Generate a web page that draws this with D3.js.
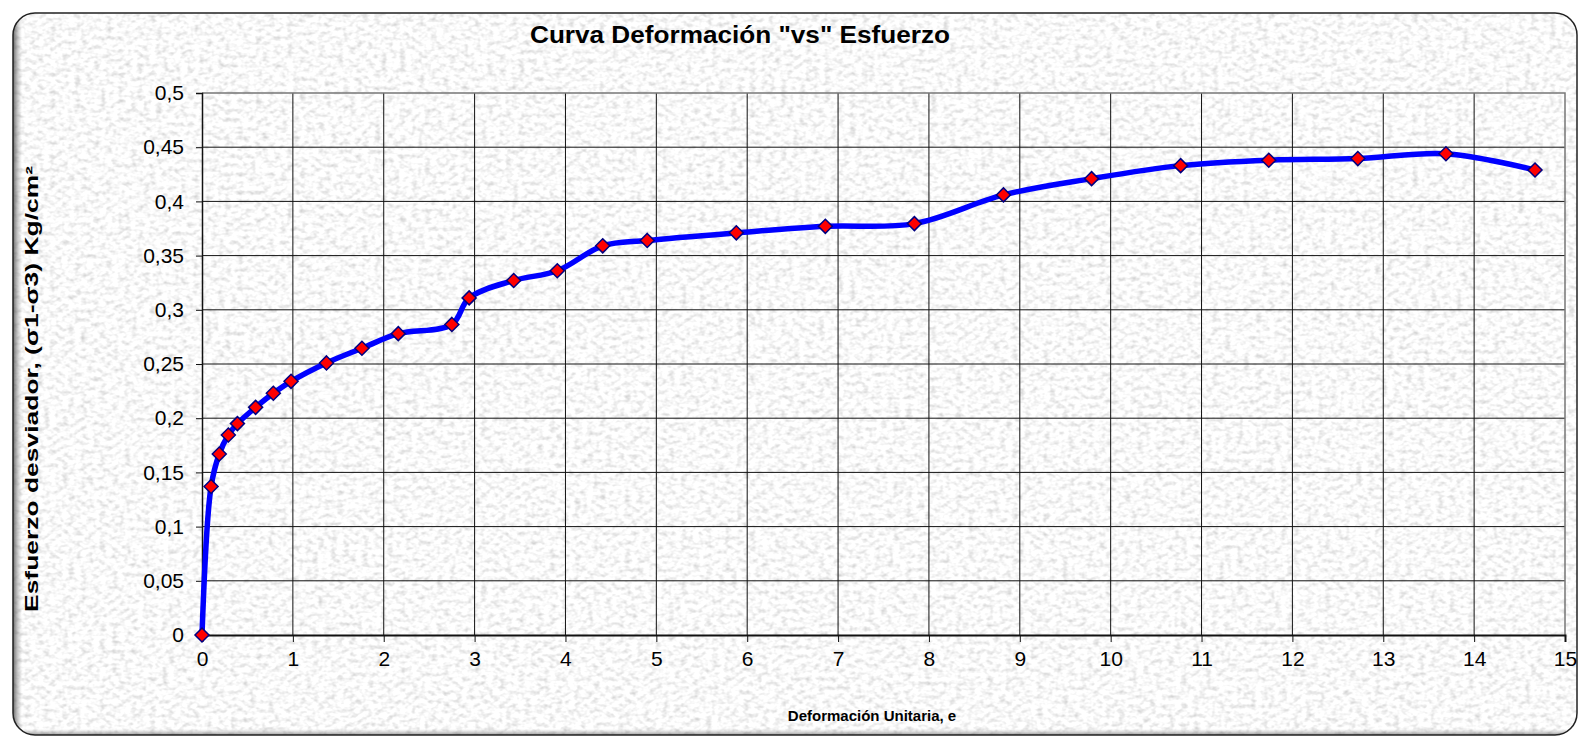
<!DOCTYPE html>
<html>
<head>
<meta charset="utf-8">
<script src="https://cdn.jsdelivr.net/npm/d3@7"></script>
<style>
  html, body { margin: 0; padding: 0; background: #fff; }
  svg { display: block; font-family: "Liberation Sans", Arial, sans-serif; }
</style>
</head>
<body>
<div id="chart"></div>
<script>
"use strict";

/*** Data */
const deformacion = [0, 0.1, 0.19, 0.29, 0.39, 0.59, 0.785, 0.98, 1.37, 1.76, 2.16, 2.75, 2.94,
                     3.43, 3.91, 4.41, 4.9, 5.88, 6.86, 7.84, 8.82, 9.79, 10.77, 11.74, 12.72, 13.69, 14.67];
const esfuerzo = [0, 0.137, 0.167, 0.1845, 0.195, 0.21, 0.223, 0.234, 0.251, 0.2645, 0.278, 0.2865, 0.311,
                  0.327, 0.336, 0.359, 0.364, 0.371, 0.377, 0.3795, 0.406, 0.421, 0.433, 0.438, 0.4395, 0.444, 0.429];

const xTicks = d3.range(0, 16);
const yTicks = [0, 0.05, 0.1, 0.15, 0.2, 0.25, 0.3, 0.35, 0.4, 0.45, 0.5];
const yTickLabels = ["0", "0,05", "0,1", "0,15", "0,2", "0,25", "0,3", "0,35", "0,4", "0,45", "0,5"];

const titleText = "Curva Deformación \"vs\" Esfuerzo";
const xTitle = "Deformación Unitaria, e";
const yTitle = "Esfuerzo desviador, (σ1-σ3) Kg/cm²";

/*** Dimensions */
const w = 1581;
const h = 737;
const plot = { left: 202, right: 1565, top: 93, bottom: 635 };

const svg = d3.select("#chart")
    .append("svg")
    .attr("width", w)
    .attr("height", h);

/** Paper texture + shadow */
const defs = svg.append("defs");
const tex = defs.append("filter").attr("id", "paper")
    .attr("x", 0).attr("y", 0).attr("width", 1).attr("height", 1);
tex.append("feTurbulence")
    .attr("type", "fractalNoise")
    .attr("baseFrequency", "0.16 0.22")
    .attr("numOctaves", 2)
    .attr("seed", 11);
tex.append("feColorMatrix")
    .attr("type", "matrix")
    .attr("values", "0.75 0 0 0 0.58  0.75 0 0 0 0.58  0.75 0 0 0 0.58  0 0 0 0 1");

const shade = defs.append("linearGradient").attr("id", "leftShade");
shade.append("stop").attr("offset", "0%").attr("stop-color", "#444").attr("stop-opacity", 0.8);
shade.append("stop").attr("offset", "100%").attr("stop-color", "#999").attr("stop-opacity", 0);

const shadeB = defs.append("linearGradient").attr("id", "bottomShade")
    .attr("x1", 0).attr("y1", 1).attr("x2", 0).attr("y2", 0);
shadeB.append("stop").attr("offset", "0%").attr("stop-color", "#555").attr("stop-opacity", 0.6);
shadeB.append("stop").attr("offset", "100%").attr("stop-color", "#999").attr("stop-opacity", 0);

defs.append("clipPath").attr("id", "frameClip")
    .append("rect")
    .attr("x", 13).attr("y", 13).attr("width", 1564).attr("height", 722)
    .attr("rx", 22).attr("ry", 22);

const frame = svg.append("g").attr("clip-path", "url(#frameClip)");
frame.append("rect")
    .attr("x", 13).attr("y", 13).attr("width", 1564).attr("height", 722)
    .attr("filter", "url(#paper)");
frame.append("rect")
    .attr("x", 13).attr("y", 13).attr("width", 9).attr("height", 722)
    .attr("fill", "url(#leftShade)");
frame.append("rect")
    .attr("x", 13).attr("y", 729).attr("width", 1564).attr("height", 6)
    .attr("fill", "url(#bottomShade)");

svg.append("rect")
    .attr("x", 13).attr("y", 13).attr("width", 1564).attr("height", 722)
    .attr("rx", 22).attr("ry", 22)
    .attr("fill", "none")
    .attr("stroke", "#222")
    .attr("stroke-width", 1.5);

/** Scales */
const x = d3.scaleLinear().domain([0, 15]).range([plot.left, plot.right]);
const y = d3.scaleLinear().domain([0, 0.5]).range([plot.bottom, plot.top]);

/** Grid */
svg.append("g")
    .selectAll("line")
    .data(xTicks.slice(1, -1))
    .enter().append("line")
    .attr("x1", d => x(d)).attr("x2", d => x(d))
    .attr("y1", plot.top).attr("y2", plot.bottom)
    .attr("stroke", "#111").attr("stroke-width", 1);

svg.append("g")
    .selectAll("line")
    .data(yTicks.slice(1, -1))
    .enter().append("line")
    .attr("x1", plot.left).attr("x2", plot.right)
    .attr("y1", d => y(d)).attr("y2", d => y(d))
    .attr("stroke", "#111").attr("stroke-width", 1);

// top + right border of the plot area
svg.append("path")
    .attr("d", `M${plot.left},${y(0.5)}H${x(15)}V${plot.bottom}`)
    .attr("fill", "none")
    .attr("stroke", "#777")
    .attr("stroke-width", 1.5);

/** Axes */
const xAxis = d3.axisBottom(x)
    .tickValues(xTicks)
    .tickSize(7)
    .tickPadding(9)
    .tickFormat(d3.format("d"));

const yAxis = d3.axisLeft(y)
    .tickValues(yTicks)
    .tickSize(6)
    .tickPadding(12)
    .tickFormat((d, i) => yTickLabels[i]);

const gx = svg.append("g")
    .attr("transform", `translate(0,${plot.bottom})`)
    .call(xAxis);
const gy = svg.append("g")
    .attr("transform", `translate(${plot.left},0)`)
    .call(yAxis);

[gx, gy].forEach(g => {
    g.select(".domain").attr("stroke", "#111").attr("stroke-width", 1.5);
    g.selectAll(".tick line").attr("stroke", "#111");
    g.selectAll(".tick text")
        .attr("fill", "#000")
        .style("font-size", "21px")
        .style("font-family", "'Liberation Sans', Arial, sans-serif");
});
gx.select(".domain").attr("stroke-width", 2);

/** Curve */
const line = d3.line()
    .x((d, i) => x(deformacion[i]))
    .y(d => y(d))
    .curve(d3.curveCatmullRom.alpha(0.5));

svg.append("path")
    .datum(esfuerzo)
    .attr("d", line)
    .attr("fill", "none")
    .attr("stroke", "#0000ff")
    .attr("stroke-width", 5.5)
    .attr("stroke-linejoin", "round");

/** Markers */
svg.append("g")
    .selectAll("path")
    .data(esfuerzo)
    .enter().append("path")
    .attr("transform", (d, i) => `translate(${x(deformacion[i])},${y(d)})`)
    .attr("d", "M0,-7L7,0L0,7L-7,0Z")
    .attr("fill", "#ff0000")
    .attr("stroke", "#000080")
    .attr("stroke-width", 1.5);

/** Titles */
svg.append("text")
    .attr("x", 740).attr("y", 43)
    .attr("text-anchor", "middle")
    .attr("textLength", 420)
    .attr("lengthAdjust", "spacingAndGlyphs")
    .style("font-weight", "bold")
    .style("font-size", "23px")
    .text(titleText);

svg.append("text")
    .attr("x", 872).attr("y", 721)
    .attr("text-anchor", "middle")
    .style("font-weight", "bold")
    .style("font-size", "15px")
    .text(xTitle);

svg.append("text")
    .attr("transform", "translate(38,389) rotate(-90)")
    .attr("text-anchor", "middle")
    .attr("textLength", 446)
    .attr("lengthAdjust", "spacingAndGlyphs")
    .style("font-weight", "bold")
    .style("font-size", "18px")
    .text(yTitle);
</script>
</body>
</html>
